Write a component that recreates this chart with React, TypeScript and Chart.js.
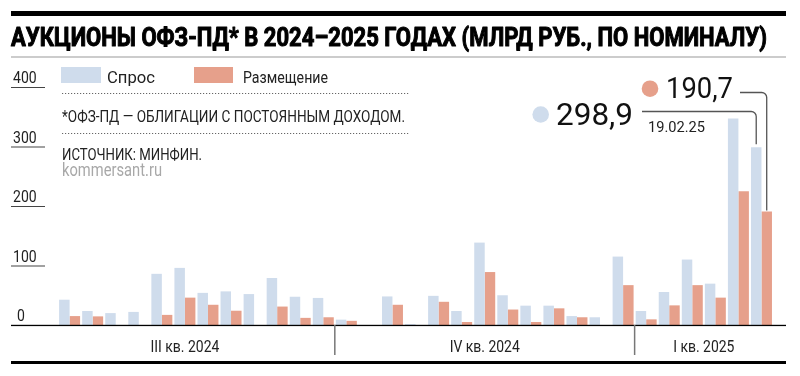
import React, { useEffect, useRef } from "react";
import { Chart, registerables } from "chart.js";

Chart.register(...registerables);

// ---------- data ----------
const dates = [
  "03.07.24", "10.07.24", "17.07.24", "24.07.24", "31.07.24", "07.08.24", "14.08.24", "21.08.24",
  "28.08.24", "04.09.24", "11.09.24", "18.09.24", "25.09.24",
  "02.10.24", "09.10.24", "16.10.24", "23.10.24", "30.10.24", "06.11.24", "13.11.24", "20.11.24",
  "27.11.24", "04.12.24", "11.12.24", "18.12.24", "25.12.24",
  "15.01.25", "22.01.25", "29.01.25", "05.02.25", "12.02.25", "19.02.25",
];
const demand = [
  null, 42.5, 23.5, 20, 22, 86, 96, 54, 56.5, 52, 79, 47.5, 45.5,
  9, null, 48, 1.5, 49, 23.5, 138.5, 50, 32.5, 32.5, 15, 13, 115,
  23.5, 55.5, 110, 69.5, 347, 298.9,
];
const placement = [
  null, 15, 14.5, null, null, 17, 46, 34, 24, null, 31, 12, 13,
  7, null, 34, null, 39, 5, 89, 26, 5, 28, 13, null, 67,
  9.5, 33, 67, 46, 225, 190.7,
];
const yTicks = [0, 100, 200, 300, 400];
const quarterLabels = ["III кв. 2024", "IV кв. 2024", "I кв. 2025"];
const quarterStarts = ["03.07.24", "02.10.24", "15.01.25"];
const highlightDate = "19.02.25";
const seriesNames = ["Спрос", "Размещение"];
const title = "АУКЦИОНЫ ОФЗ-ПД* В 2024–2025 ГОДАХ (МЛРД РУБ., ПО НОМИНАЛУ)";
const footnote = "*ОФЗ-ПД — ОБЛИГАЦИИ С ПОСТОЯННЫМ ДОХОДОМ.";
const source = "ИСТОЧНИК: МИНФИН.";
const site = "kommersant.ru";

const COLORS = ["#cfdcec", "#e6a08b"];
const FONT = "Roboto, 'Liberation Sans', sans-serif";

function fitText(
  ctx: CanvasRenderingContext2D,
  text: string,
  x: number,
  y: number,
  width: number,
  font: string,
  color: string,
  align: "left" | "center" = "left",
  stroke = 0
) {
  ctx.save();
  ctx.font = font;
  ctx.fillStyle = color;
  ctx.textBaseline = "alphabetic";
  ctx.textAlign = "left";
  const w = ctx.measureText(text).width;
  const sx = width / w;
  const x0 = align === "center" ? x - width / 2 : x;
  ctx.translate(x0, y);
  ctx.scale(sx, 1);
  ctx.fillText(text, 0, 0);
  if (stroke > 0) {
    ctx.strokeStyle = color;
    ctx.lineWidth = stroke;
    ctx.lineJoin = "round";
    ctx.strokeText(text, 0, 0);
  }
  ctx.restore();
}

function scaledText(
  ctx: CanvasRenderingContext2D,
  text: string,
  x: number,
  y: number,
  sx: number,
  font: string,
  color: string,
  align: "left" | "center" = "left"
) {
  ctx.save();
  ctx.font = font;
  const w = ctx.measureText(text).width * sx;
  ctx.restore();
  fitText(ctx, text, x, y, w, font, color, align);
}

const fmt = (v: number) => v.toFixed(1).replace(".", ",");

const decorPlugin = {
  id: "decor",
  afterDraw(chart: any) {
    const ctx: CanvasRenderingContext2D = chart.ctx;
    const xs = chart.scales.x;
    const ys = chart.scales.y;

    // header
    ctx.save();
    ctx.fillStyle = "#000";
    ctx.fillRect(11, 11, 775, 5);
    ctx.restore();
    fitText(ctx, title, 11, 46, 756, `bold 25px ${FONT}`, "#000", "left", 1);
    ctx.save();
    ctx.fillStyle = "#9a9a9a";
    ctx.fillRect(11, 56.5, 775, 1);
    ctx.restore();

    // legend
    ctx.save();
    ctx.fillStyle = COLORS[0];
    ctx.fillRect(61, 67, 40, 16);
    ctx.fillStyle = COLORS[1];
    ctx.fillRect(194, 67, 39, 16);
    ctx.restore();
    fitText(ctx, seriesNames[0], 107, 82.5, 48, `17px ${FONT}`, "#222");
    fitText(ctx, seriesNames[1], 243, 82.5, 85, `17px ${FONT}`, "#222");

    // dotted separators
    ctx.save();
    ctx.strokeStyle = "#666";
    ctx.lineWidth = 1;
    ctx.setLineDash([1.2, 1.8]);
    [93.5, 133.5].forEach((yy) => {
      ctx.beginPath();
      ctx.moveTo(62, yy);
      ctx.lineTo(409, yy);
      ctx.stroke();
    });
    ctx.restore();
    fitText(ctx, footnote, 62, 121.5, 343, `16px ${FONT}`, "#222");
    fitText(ctx, source, 62, 160, 140, `16px ${FONT}`, "#222");
    fitText(ctx, site, 62, 175.5, 100, `18px ${FONT}`, "#a8a8a8");

    // y ticks
    yTicks.forEach((v) => {
      const y = ys.getPixelForValue(v);
      if (v > 0) {
        ctx.save();
        ctx.strokeStyle = "#444";
        ctx.lineWidth = 1.2;
        ctx.beginPath();
        ctx.moveTo(11, y + 0.5);
        ctx.lineTo(45, y + 0.5);
        ctx.stroke();
        ctx.restore();
      }
      scaledText(ctx, String(v), v === 0 ? 17 : 13, y - 4, 0.85, `16.5px ${FONT}`, "#222");
    });

    // baseline
    const y0 = ys.getPixelForValue(0);
    ctx.save();
    ctx.fillStyle = "#000";
    ctx.fillRect(11, y0 - 0.2, 775, 1.3);
    ctx.restore();

    // quarter dividers & labels
    const bounds: number[] = [xs.left];
    for (let q = 1; q < quarterStarts.length; q++) {
      const idx = dates.indexOf(quarterStarts[q]);
      const xd = xs.getPixelForValue(idx - 0.5);
      bounds.push(xd);
      ctx.save();
      ctx.strokeStyle = "#777";
      ctx.lineWidth = 1.5;
      ctx.beginPath();
      ctx.moveTo(xd, y0);
      ctx.lineTo(xd, 355);
      ctx.stroke();
      ctx.restore();
    }
    bounds.push(xs.right);
    quarterLabels.forEach((lab, q) => {
      const cx = (bounds[q] + bounds[q + 1]) / 2;
      scaledText(ctx, lab, cx, 351.5, 0.82, `17px ${FONT}`, "#222", "center");
    });

    // footer rule
    ctx.save();
    ctx.fillStyle = "#000";
    ctx.fillRect(11, 361, 775, 3);
    ctx.restore();

    // annotations
    const hi = dates.indexOf(highlightDate);
    const mb = chart.getDatasetMeta(0).data[hi];
    const mr = chart.getDatasetMeta(1).data[hi];
    const r = 5;

    ctx.save();
    ctx.fillStyle = COLORS[0];
    ctx.beginPath();
    ctx.arc(540.7, 114.5, 8.3, 0, Math.PI * 2);
    ctx.fill();
    ctx.fillStyle = COLORS[1];
    ctx.beginPath();
    ctx.arc(650, 88.7, 8.3, 0, Math.PI * 2);
    ctx.fill();
    ctx.restore();

    fitText(ctx, fmt(demand[hi] as number), 556, 124.5, 77, `32px ${FONT}`, "#111");
    fitText(ctx, fmt(placement[hi] as number), 666, 97.5, 67, `30px ${FONT}`, "#111");
    fitText(ctx, highlightDate, 648, 131.5, 57, `15px ${FONT}`, "#222");

    ctx.save();
    ctx.strokeStyle = "#555";
    ctx.lineWidth = 1.3;
    ctx.beginPath();
    ctx.moveTo(642, 111.5);
    ctx.arcTo(mb.x, 111.5, mb.x, 111.5 + r, r);
    ctx.lineTo(mb.x, mb.y - 3);
    ctx.stroke();
    ctx.beginPath();
    ctx.moveTo(740, 92.5);
    ctx.arcTo(mr.x, 92.5, mr.x, 92.5 + r, r);
    ctx.lineTo(mr.x, mr.y - 1);
    ctx.stroke();
    ctx.restore();
  },
};

export default function App() {
  const canvasRef = useRef<HTMLCanvasElement | null>(null);

  useEffect(() => {
    if (!canvasRef.current) return;
    const chart = new Chart(canvasRef.current, {
      type: "bar",
      data: {
        labels: dates,
        datasets: [
          {
            label: seriesNames[0],
            data: demand,
            backgroundColor: COLORS[0],
            borderWidth: 0,
            categoryPercentage: 0.91,
            barPercentage: 1,
          },
          {
            label: seriesNames[1],
            data: placement,
            backgroundColor: COLORS[1],
            borderWidth: 0,
            categoryPercentage: 0.91,
            barPercentage: 1,
          },
        ],
      },
      options: {
        responsive: false,
        maintainAspectRatio: false,
        animation: false,
        layout: { padding: { left: 35, right: 27, top: 87, bottom: 51 } },
        scales: {
          x: { display: false },
          y: { display: false, min: 0, max: 400 },
        },
        plugins: {
          legend: { display: false },
          tooltip: { enabled: false },
        },
      },
      plugins: [decorPlugin],
    } as any);
    return () => chart.destroy();
  }, []);

  return (
    <div
      style={{
        position: "absolute",
        left: 0,
        top: 0,
        width: 800,
        height: 376,
        background: "#fff",
      }}
    >
      <canvas ref={canvasRef} width={800} height={376} style={{ display: "block", width: 800, height: 376 }} />
    </div>
  );
}
